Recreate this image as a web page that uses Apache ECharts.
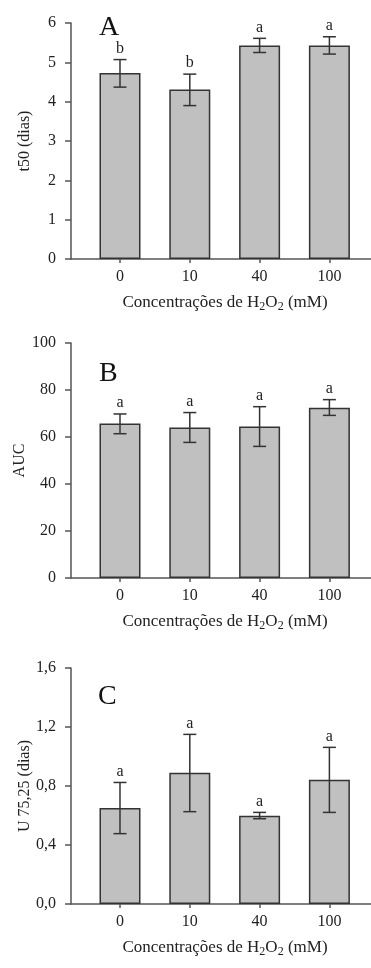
<!DOCTYPE html>
<html>
<head>
    <meta charset="utf-8">
    <title>Concentrações de H2O2</title>
    <style>
        html, body { margin: 0; padding: 0; background: #fff; }
        #main { width: 371px; height: 968px; }
    </style>
</head>
<body>
<div id="main"></div>
<script src="https://cdn.jsdelivr.net/npm/echarts@6/dist/echarts.min.js"></script>
<script>
    // dados
    var categories = ['0', '10', '40', '100'];

    var t50Mean = [4.73, 4.31, 5.43, 5.43];
    var t50Low = [4.37, 3.90, 5.25, 5.21];
    var t50High = [5.07, 4.70, 5.61, 5.65];
    var t50Letters = ['b', 'b', 'a', 'a'];
    var t50Ticks = [0, 6, 1];

    var aucMean = [65.7, 64.0, 64.5, 72.5];
    var aucLow = [61.4, 57.7, 56.0, 69.2];
    var aucHigh = [69.8, 70.4, 72.9, 75.9];
    var aucLetters = ['a', 'a', 'a', 'a'];
    var aucTicks = [0, 100, 20];

    var uMean = [0.651, 0.890, 0.599, 0.843];
    var uLow = [0.477, 0.626, 0.578, 0.621];
    var uHigh = [0.824, 1.150, 0.621, 1.062];
    var uLetters = ['a', 'a', 'a', 'a'];
    var uTicks = [0, 1.6, 0.4];

    var serif = 'Liberation Serif, DejaVu Serif, serif';
    var ink = '#222';
    var axisColor = '#555';
    var catPos = [0, 1, 2, 3];

    var grids = [
        {left: 71, right: 0, top: 23, height: 236, outerBoundsMode: 'none'},
        {left: 71, right: 0, top: 343, height: 235, outerBoundsMode: 'none'},
        {left: 71, right: 0, top: 668, height: 236, outerBoundsMode: 'none'}
    ];

    function xAxisFor(idx) {
        return {
            type: 'value', gridIndex: idx,
            min: -0.702, max: 3.596,
            name: 'Concentrações de H{sub|2}O{sub|2} (mM)',
            nameLocation: 'middle', nameGap: 33,
            nameTextStyle: {
                fontFamily: serif, fontSize: 17, color: ink, padding: [0, 0, 0, 8],
                rich: {sub: {fontFamily: serif, fontSize: 12, color: ink, padding: [9, 0, 0, 0]}}
            },
            axisLine: {onZero: false, lineStyle: {color: axisColor, width: 1.5}},
            axisTick: {show: true, customValues: catPos, length: 4, lineStyle: {color: axisColor, width: 1.5}},
            axisLabel: {
                customValues: catPos, margin: 10,
                fontFamily: serif, fontSize: 16, color: ink,
                formatter: function (v) { return categories[Math.round(v)]; }
            },
            splitLine: {show: false}
        };
    }

    function yAxisFor(idx, name, ticks, gap, fmt) {
        return {
            type: 'value', gridIndex: idx,
            min: ticks[0], max: ticks[1], interval: ticks[2],
            name: name, nameLocation: 'middle', nameGap: gap, nameRotate: 90,
            nameMoveOverlap: false,
            nameTextStyle: {fontFamily: serif, fontSize: 16, color: ink},
            axisLine: {show: true, onZero: false, lineStyle: {color: axisColor, width: 1.5}},
            axisTick: {show: true, length: 6, lineStyle: {color: axisColor, width: 1.5}},
            axisLabel: {margin: 15, fontFamily: serif, fontSize: 16, color: ink, formatter: fmt},
            splitLine: {show: false}
        };
    }

    function barSeries(idx, mean) {
        return {
            type: 'bar', xAxisIndex: idx, yAxisIndex: idx,
            barWidth: 41, z: 2,
            itemStyle: {color: '#c0c0c0', borderColor: '#333', borderWidth: 1.5},
            data: mean.map(function (v, i) { return [catPos[i], v]; }),
            animation: false
        };
    }

    function errorSeries(idx, low, high, letters) {
        return {
            type: 'custom', xAxisIndex: idx, yAxisIndex: idx,
            clip: false, z: 5,
            encode: {x: 0, y: [1, 2]},
            data: low.map(function (v, i) { return [catPos[i], v, high[i]]; }),
            renderItem: function (params, api) {
                var x = api.value(0);
                var lo = api.coord([x, api.value(1)]);
                var hi = api.coord([x, api.value(2)]);
                var cap = 6.5;
                var st = {stroke: '#333', lineWidth: 1.5};
                return {
                    type: 'group',
                    children: [
                        {type: 'line', shape: {x1: lo[0], y1: lo[1], x2: hi[0], y2: hi[1]}, style: st},
                        {type: 'line', shape: {x1: hi[0] - cap, y1: hi[1], x2: hi[0] + cap, y2: hi[1]}, style: st},
                        {type: 'line', shape: {x1: lo[0] - cap, y1: lo[1], x2: lo[0] + cap, y2: lo[1]}, style: st},
                        {
                            type: 'text', x: hi[0], y: hi[1] - 3,
                            style: {
                                text: letters[params.dataIndex], fill: ink,
                                font: '16px ' + serif, align: 'center', verticalAlign: 'bottom'
                            }
                        }
                    ]
                };
            },
            animation: false
        };
    }

    var commaFmt = function (v) { return v.toFixed(1).replace('.', ','); };

    var chart = echarts.init(document.getElementById('main'));
    chart.setOption({
        backgroundColor: '#fff',
        animation: false,
        title: [
            {text: 'A', left: 94, top: 9, textStyle: {fontFamily: serif, fontSize: 28, fontWeight: 'normal', color: '#111'}},
            {text: 'B', left: 94, top: 355, textStyle: {fontFamily: serif, fontSize: 28, fontWeight: 'normal', color: '#111'}},
            {text: 'C', left: 93, top: 678, textStyle: {fontFamily: serif, fontSize: 28, fontWeight: 'normal', color: '#111'}}
        ],
        grid: grids,
        xAxis: [xAxisFor(0), xAxisFor(1), xAxisFor(2)],
        yAxis: [
            yAxisFor(0, 't50 (dias)', t50Ticks, 38),
            yAxisFor(1, 'AUC', aucTicks, 43),
            yAxisFor(2, 'U 75,25 (dias)', uTicks, 38, commaFmt)
        ],
        series: [
            barSeries(0, t50Mean), errorSeries(0, t50Low, t50High, t50Letters),
            barSeries(1, aucMean), errorSeries(1, aucLow, aucHigh, aucLetters),
            barSeries(2, uMean), errorSeries(2, uLow, uHigh, uLetters)
        ]
    });
</script>
</body>
</html>
